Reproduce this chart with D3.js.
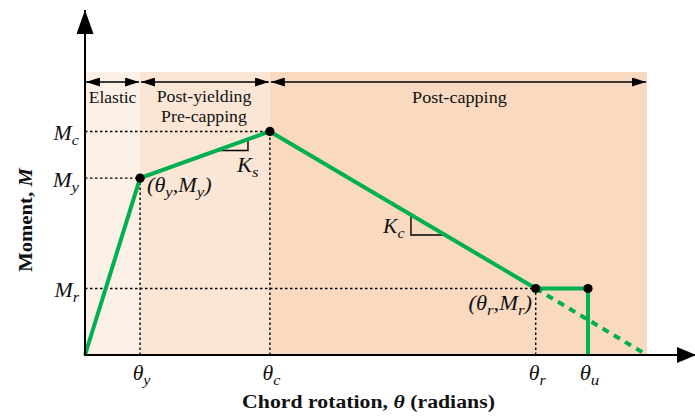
<!DOCTYPE html>
<html><head><meta charset="utf-8">
<script src="https://cdn.jsdelivr.net/npm/d3@7"></script>
<style>html,body{margin:0;padding:0;background:#fff;}svg{display:block;}</style>
</head><body>
<svg id="c" width="695" height="416"></svg>
<script>
// ---- data ----
const thetaKeys = ["y", "c", "r", "u"];
const thetaValues = [0.98, 3.29, 8.02, 8.95];
const thetaEnd = 10;
const momentKeys = ["c", "y", "r"];
const momentValues = [0.79, 0.625, 0.235];
const regionNames = ["Elastic", "Post-yielding|Pre-capping", "Post-capping"];
const regionBounds = [0, 0.98, 3.29, 10];
const regionColors = ["#fcf0e7", "#fbe5d5", "#f9dac1"];
const backbone = [[0, 0], [0.98, 0.625], [3.29, 0.79], [8.02, 0.235], [8.95, 0.235], [8.95, 0]];
const extension = [[8.02, 0.235], [10, 0]];
const markers = [[0.98, 0.625], [3.29, 0.79], [8.02, 0.235], [8.95, 0.235]];

const svg = d3.select("#c");
const x = d3.scaleLinear().domain([0, thetaEnd]).range([85, 647]);
const y = d3.scaleLinear().domain([0, 1]).range([355, 72]);
const serif = "'Liberation Serif', 'Times New Roman', serif";
const green = "#00b050";

function fit(g, tx, ty, targetW, rot) {
  const t = g.select("text");
  const w = t.node().getBBox().width;
  const sx = targetW / w;
  g.attr("transform", `translate(${tx},${ty})` + (rot ? ` rotate(${rot})` : "") + ` scale(${sx},1)`);
}
function mkText(anchor, size, extra) {
  const g = svg.append("g");
  const t = g.append("text").attr("x", 0).attr("y", 0).attr("text-anchor", anchor)
    .attr("font-family", serif).attr("font-size", size).attr("fill", "#111");
  if (extra) extra(t);
  return {g, t};
}
function sub(t, main, s, size) {
  t.append("tspan").text(main);
  t.append("tspan").attr("font-size", size * 0.74).attr("dy", size * 0.26).text(s);
}

const defs = svg.append("defs");
defs.append("marker").attr("id", "ah").attr("viewBox", "0 0 14 9").attr("refX", 14).attr("refY", 4.5)
  .attr("markerWidth", 14).attr("markerHeight", 9).attr("markerUnits", "userSpaceOnUse").attr("orient", "auto-start-reverse")
  .append("path").attr("d", "M0,0L14,4.5L0,9Z").attr("fill", "#000");
defs.append("marker").attr("id", "ya").attr("viewBox", "0 0 24 17").attr("refX", 24).attr("refY", 8.5)
  .attr("markerWidth", 24).attr("markerHeight", 17).attr("markerUnits", "userSpaceOnUse").attr("orient", "auto")
  .append("path").attr("d", "M0,0L24,8.5L0,17Z").attr("fill", "#000");
defs.append("marker").attr("id", "xa").attr("viewBox", "0 0 19 16").attr("refX", 19).attr("refY", 8)
  .attr("markerWidth", 19).attr("markerHeight", 16).attr("markerUnits", "userSpaceOnUse").attr("orient", "auto")
  .append("path").attr("d", "M0,0L19,8L0,16Z").attr("fill", "#000");

regionNames.forEach((n, i) => {
  svg.append("rect").attr("x", x(regionBounds[i])).attr("y", y(1))
    .attr("width", x(regionBounds[i + 1]) - x(regionBounds[i])).attr("height", y(0) - y(1))
    .attr("fill", regionColors[i]);
});

const dimY = 82;
const regionLabelW = [[48], [95, 86], [95]];
const regionLabelY = [[103], [102, 122], [103]];
regionNames.forEach((n, i) => {
  const x0 = x(regionBounds[i]), x1 = x(regionBounds[i + 1]);
  svg.append("line").attr("x1", x0 + 1).attr("x2", x1 - 1).attr("y1", dimY).attr("y2", dimY)
    .attr("stroke", "#000").attr("stroke-width", 1.3)
    .attr("marker-start", "url(#ah)").attr("marker-end", "url(#ah)");
  const cx = (x0 + x1) / 2 + (i === 1 ? -1 : (i === 2 ? 1 : 0));
  n.split("|").forEach((s, k) => {
    const o = mkText("middle", 17.5, t => t.text(s));
    fit(o.g, cx, regionLabelY[i][k], regionLabelW[i][k]);
  });
});

const guides = [
  [[0, momentValues[1]], [thetaValues[0], momentValues[1]]],
  [[0, momentValues[0]], [thetaValues[1], momentValues[0]]],
  [[0, momentValues[2]], [thetaValues[2], momentValues[2]]],
  [[thetaValues[0], 0], [thetaValues[0], momentValues[1]]],
  [[thetaValues[1], 0], [thetaValues[1], momentValues[0]]],
  [[thetaValues[2], 0], [thetaValues[2], momentValues[2]]]
];
guides.forEach(g => {
  svg.append("line").attr("x1", x(g[0][0])).attr("y1", y(g[0][1])).attr("x2", x(g[1][0])).attr("y2", y(g[1][1]))
    .attr("stroke", "#000").attr("stroke-width", 1.4).attr("stroke-dasharray", "2.5,2.5");
});

function legTriangle(p0, p1, xa, xb, vertAt) {
  const f = xx => y(p0[1] + (p1[1] - p0[1]) * (xx - p0[0]) / (p1[0] - p0[0]));
  const X0 = x(xa), X1 = x(xb);
  let pts;
  if (vertAt === "right") pts = [[X0, f(xa)], [X1, f(xa)], [X1, f(xb)]];
  else pts = [[X0, f(xa)], [X0, f(xb)], [X1, f(xb)]];
  svg.append("path").attr("d", d3.line()(pts)).attr("fill", "none").attr("stroke", "#000").attr("stroke-width", 1.4);
}
legTriangle(backbone[1], backbone[2], 2.35, 2.90, "right");
legTriangle(backbone[2], backbone[3], 5.8, 6.41, "left");

const line = d3.line().x(d => x(d[0])).y(d => y(d[1]));
svg.append("path").attr("d", line(extension)).attr("fill", "none").attr("stroke", green)
  .attr("stroke-width", 4).attr("stroke-dasharray", "7,6");
svg.append("path").attr("d", line(backbone)).attr("fill", "none").attr("stroke", green)
  .attr("stroke-width", 4).attr("stroke-linejoin", "miter");

svg.selectAll("circle.m").data(markers).enter().append("circle")
  .attr("cx", d => x(d[0])).attr("cy", d => y(d[1])).attr("r", 4.6).attr("fill", "#000");

svg.append("line").attr("x1", x(0)).attr("y1", y(0) + 1).attr("x2", x(0)).attr("y2", 10)
  .attr("stroke", "#000").attr("stroke-width", 2).attr("marker-end", "url(#ya)");
svg.append("line").attr("x1", x(0) - 1).attr("y1", y(0)).attr("x2", 696).attr("y2", y(0))
  .attr("stroke", "#000").attr("stroke-width", 2).attr("marker-end", "url(#xa)");

const mWidths = [27, 28, 26];
momentKeys.forEach((k, i) => {
  const o = mkText("end", 20, t => { t.attr("font-style", "italic"); sub(t, "M", k, 20); });
  fit(o.g, 79, y(momentValues[i]) + 8.5, mWidths[i]);
});
const tWidths = [18, 18, 18, 20];
thetaKeys.forEach((k, i) => {
  const o = mkText("middle", 21, t => { t.attr("font-style", "italic"); sub(t, "θ", k, 21); });
  fit(o.g, x(thetaValues[i]) + 1.5, 380, tWidths[i]);
});

function pointLabel(px, py, anchor, s, w) {
  const o = mkText(anchor, 20, t => {
    t.attr("font-style", "italic");
    t.append("tspan").text("(θ");
    t.append("tspan").attr("font-size", 15).attr("dy", 5).text(s);
    t.append("tspan").attr("dy", -5).text(",M");
    t.append("tspan").attr("font-size", 15).attr("dy", 5).text(s);
    t.append("tspan").attr("dy", -5).text(")");
  });
  fit(o.g, px, py, w);
}
pointLabel(147, 192, "start", "y", 65);
pointLabel(532, 310, "end", "r", 64);

const ks = mkText("start", 20, t => { t.attr("font-style", "italic"); sub(t, "K", "s", 20); });
fit(ks.g, 237, 172, 23);
const kc = mkText("start", 20, t => { t.attr("font-style", "italic"); sub(t, "K", "c", 20); });
fit(kc.g, 383, 233, 23);

const xt = mkText("middle", 19, t => {
  t.attr("font-weight", "bold");
  t.append("tspan").text("Chord rotation, ");
  t.append("tspan").attr("font-style", "italic").text("θ");
  t.append("tspan").text(" (radians)");
});
fit(xt.g, 368.5, 408, 253);
const yt = mkText("middle", 19, t => {
  t.attr("font-weight", "bold");
  t.append("tspan").text("Moment, ");
  t.append("tspan").attr("font-style", "italic").text("M");
});
fit(yt.g, 32, 220, 105, -90);
</script>
</body></html>
